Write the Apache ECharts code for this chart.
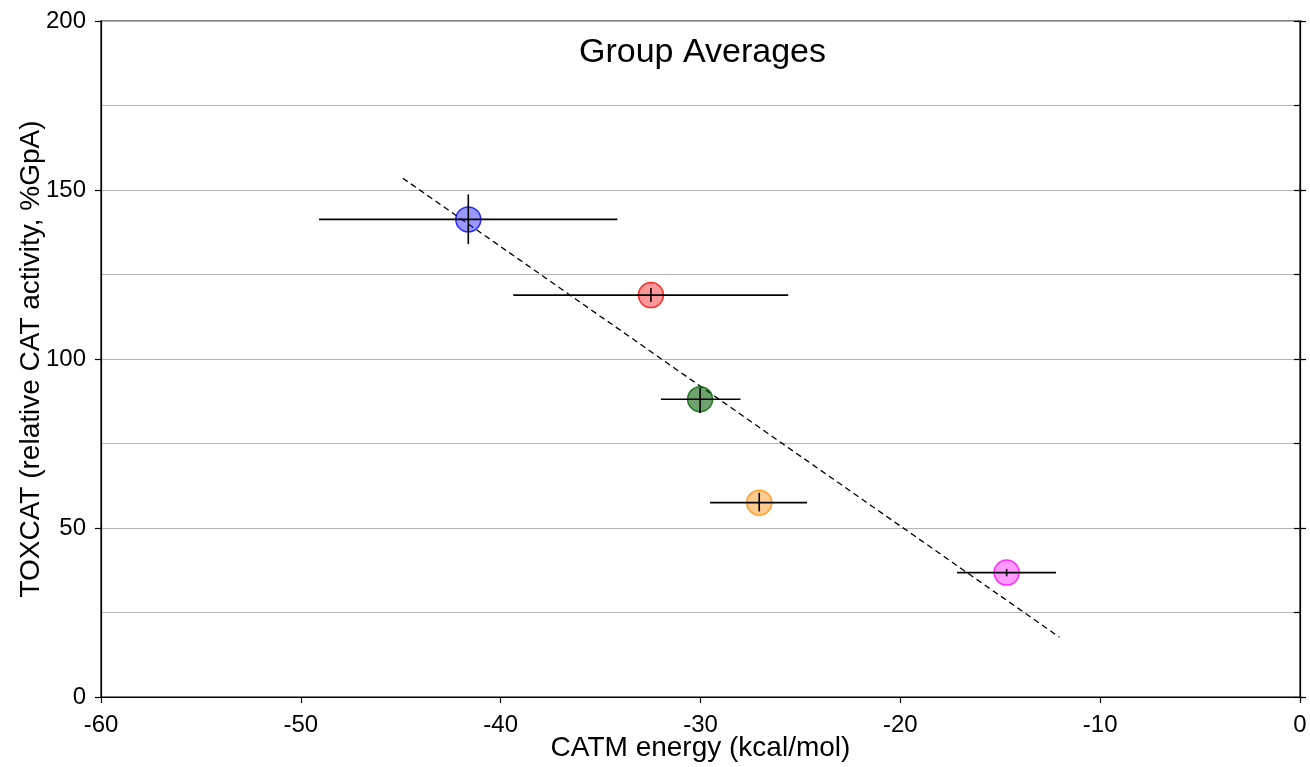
<!DOCTYPE html>
<html>
<head>
<meta charset="utf-8">
<script src="https://cdn.jsdelivr.net/npm/echarts@6/dist/echarts.min.js"></script>
<style>
  html, body { margin: 0; padding: 0; background: #fff; }
  #chart { width: 1310px; height: 767px; }
</style>
</head>
<body>
<div id="chart"></div>
<script>
// group averages (CATM energy vs TOXCAT)
const groupColors = ["#0000ff", "#ff0000", "#006400", "#ff8c00", "#ff00ff"];
const groupFills = ["rgba(0,0,255,0.5)", "rgba(255,0,0,0.5)", "rgba(0,90,0,0.7)", "rgba(255,140,0,0.55)", "rgba(255,0,255,0.5)"];
const xMean = [-41.62, -32.48, -30.02, -27.06, -14.68];
const yMean = [141.3, 118.9, 88.1, 57.5, 36.8];
const xLow = [-49.09, -39.37, -31.98, -29.52, -17.16];
const xHigh = [-34.16, -25.61, -28.0, -24.67, -12.21];
const yLow = [134.0, 116.9, 84.0, 54.9, 35.7];
const yHigh = [148.7, 121.0, 91.4, 60.4, 37.9];
// fit line end points
const fitX = [-44.9, -12.04];
const fitY = [153.5, 17.7];

const font = "'Liberation Sans', Arial, sans-serif";

let chart = echarts.init(document.getElementById("chart"));

let pointData = xMean.map((x, i) => ({
  value: [x, yMean[i]],
  itemStyle: { color: groupFills[i], borderColor: groupColors[i], borderWidth: 1.5 },
}));
let errData = xMean.map((x, i) => [x, yMean[i], xLow[i], xHigh[i], yLow[i], yHigh[i]]);

let options = {
  animation: false,
  backgroundColor: "#fff",
  title: {
    text: "Group Averages",
    left: 574,
    top: 31,
    textStyle: { fontFamily: font, fontSize: 34, fontWeight: "normal", color: "#000" },
  },
  grid: {
    left: 101,
    right: 10,
    top: 21,
    bottom: 70,
    outerBoundsMode: "none",
    containLabel: false,
    show: true,
    borderColor: "#000",
    borderWidth: 1.2,
  },
  xAxis: [
    {
      type: "value",
      position: "bottom",
      min: -60,
      max: 0,
      interval: 10,
      name: "CATM energy (kcal/mol)",
      nameLocation: "middle",
      nameGap: 37,
      nameMoveOverlap: false,
      nameTextStyle: { fontFamily: font, fontSize: 28, color: "#000" },
      axisLine: { show: true, onZero: false, lineStyle: { color: "#000", width: 1.2 } },
      axisTick: { show: true, inside: false, length: 6, lineStyle: { color: "#000", width: 1.2 } },
      axisLabel: { fontFamily: font, fontSize: 24, color: "#000", margin: 16 },
      splitLine: { show: false },
    },
  ],
  yAxis: [
    {
      type: "value",
      position: "left",
      min: 0,
      max: 200,
      interval: 50,
      name: "TOXCAT (relative CAT activity, %GpA)",
      nameLocation: "middle",
      nameGap: 56,
      nameMoveOverlap: false,
      nameTextStyle: { fontFamily: font, fontSize: 28, color: "#000" },
      axisLine: { show: true, onZero: false, lineStyle: { color: "#000", width: 1.2 } },
      axisTick: { show: true, inside: false, length: 6, lineStyle: { color: "#000", width: 1.2 } },
      axisLabel: { fontFamily: font, fontSize: 24, color: "#000", margin: 15 },
      splitLine: { show: true, lineStyle: { color: "#b4b4b4", width: 1.2 } },
      minorTick: { show: false, splitNumber: 2 },
      minorSplitLine: { show: true, lineStyle: { color: "#b4b4b4", width: 1.2 } },
    },
    {
      // inner ticks on the left
      type: "value",
      position: "left",
      min: 0,
      max: 200,
      interval: 50,
      axisLine: { show: false },
      axisTick: { show: true, inside: true, length: 6, lineStyle: { color: "#000", width: 1.2 } },
      axisLabel: { show: false },
      splitLine: { show: false },
    },
    {
      // right side ticks
      type: "value",
      position: "right",
      min: 0,
      max: 200,
      interval: 25,
      axisLine: { show: true, onZero: false, lineStyle: { color: "#000", width: 1.2 } },
      axisTick: { show: true, inside: true, length: 6, lineStyle: { color: "#000", width: 1.2 } },
      axisLabel: { show: false },
      splitLine: { show: false },
    },
    {
      type: "value",
      position: "right",
      min: 0,
      max: 200,
      interval: 50,
      axisLine: { show: false },
      axisTick: { show: true, inside: false, length: 3, lineStyle: { color: "#000", width: 1.2 } },
      axisLabel: { show: false },
      splitLine: { show: false },
    },
  ],
  series: [
    {
      name: "fit",
      type: "line",
      data: fitX.map((x, i) => [x, fitY[i]]),
      symbol: "none",
      lineStyle: { color: "#000", width: 1.3, type: [6, 4] },
      z: 2,
    },
    {
      name: "groups",
      type: "scatter",
      data: pointData,
      symbolSize: 25,
      z: 3,
    },
    {
      name: "errors",
      type: "custom",
      data: errData,
      encode: { x: 0, y: 1 },
      z: 4,
      renderItem: function (params, api) {
        let xl = api.coord([api.value(2), api.value(1)]);
        let xh = api.coord([api.value(3), api.value(1)]);
        let yl = api.coord([api.value(0), api.value(4)]);
        let yh = api.coord([api.value(0), api.value(5)]);
        let style = { stroke: "#000", lineWidth: 1.6 };
        return {
          type: "group",
          children: [
            { type: "line", shape: { x1: xl[0], y1: xl[1], x2: xh[0], y2: xh[1] }, style: style },
            { type: "line", shape: { x1: yl[0], y1: yl[1], x2: yh[0], y2: yh[1] }, style: style },
          ],
        };
      },
    },
  ],
};
chart.setOption(options);
</script>
</body>
</html>
